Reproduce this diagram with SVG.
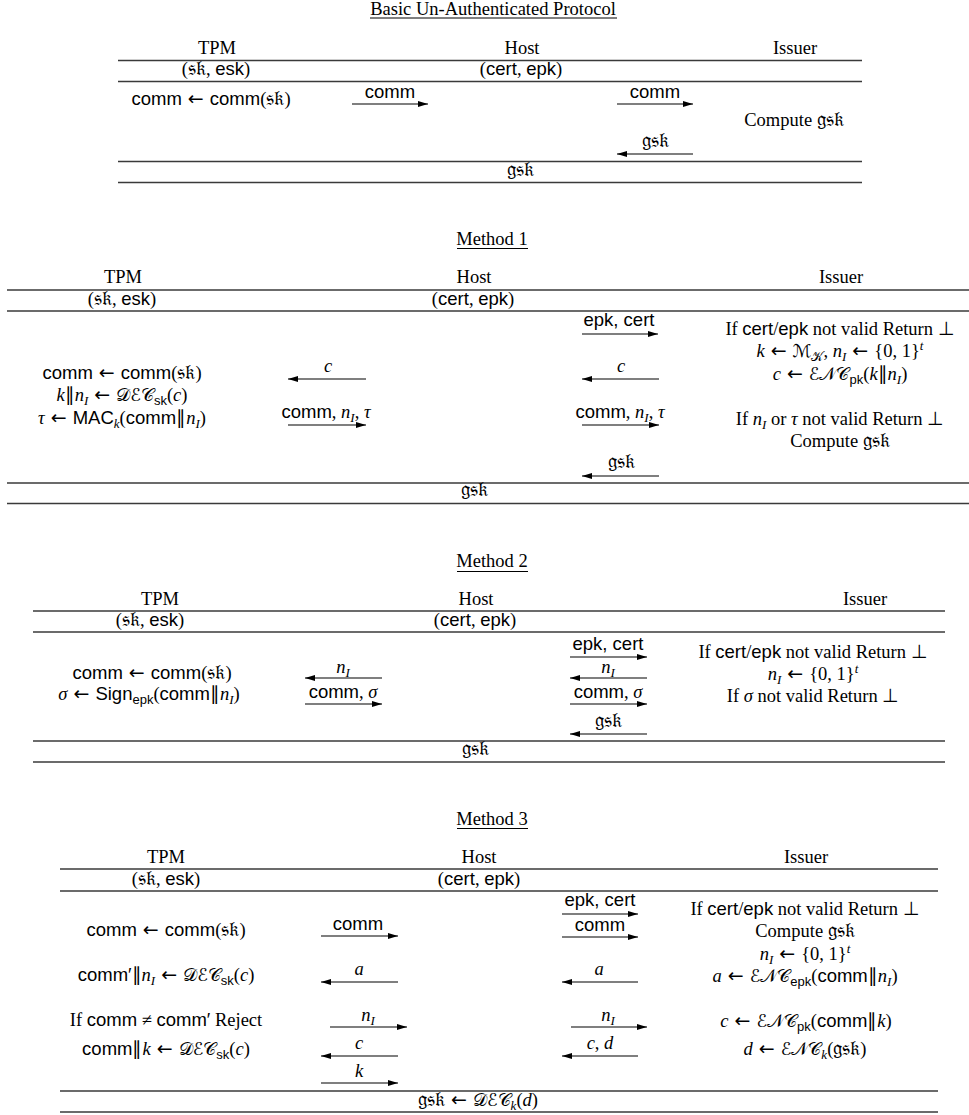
<svg xmlns="http://www.w3.org/2000/svg" width="969" height="1115" viewBox="0 0 969 1115">
<style>
text{font-family:"Liberation Serif","Times New Roman",serif;font-size:18.5px;fill:#000;text-anchor:middle}
.s{font-family:"Liberation Sans",Arial,sans-serif;font-size:18.5px}
.i{font-style:italic}
.op{font-family:"DejaVu Sans",sans-serif;font-size:19px}
.f{font-family:"DejaVu Serif","DejaVu Sans","Noto Sans",serif;font-size:20.5px}
.c{font-family:"DejaVu Serif","DejaVu Sans","Noto Sans",serif;font-style:normal;font-size:17.5px}
.sub{font-size:13px}
.rule{stroke:#3a3a3a;stroke-width:1.3;fill:none}
.ul{stroke:#000;stroke-width:1;fill:none}
.ar{stroke:#000;stroke-width:1.2;marker-end:url(#ah)}
</style>
<defs>
<marker id="ah" viewBox="0 0 10 6" refX="10" refY="3" markerWidth="10" markerHeight="6" markerUnits="userSpaceOnUse" orient="auto"><path d="M0,0 L10,3 L0,6 z" fill="#000"/></marker>
</defs>

<!-- Section 0: Basic Un-Authenticated Protocol -->
<g id="basic">
<g id="basic-title"><text x="493" y="15">Basic Un-Authenticated Protocol</text><line class="ul" x1="370" y1="18" x2="617" y2="18"/></g>
<g id="basic-rules">
<line class="rule" x1="118" y1="60.5" x2="862" y2="60.5"/>
<line class="rule" x1="118" y1="81.5" x2="862" y2="81.5"/>
<line class="rule" x1="118" y1="161.5" x2="862" y2="161.5"/>
<line class="rule" x1="118" y1="182.5" x2="862" y2="182.5"/>
</g>
<g id="basic-tpm"><text x="217" y="54">TPM</text><text x="216" y="75">(<tspan class="f">𝔰𝔨</tspan>, <tspan class="s">esk</tspan>)</text>
<text x="211" y="105"><tspan class="s">comm</tspan><tspan class="op"> ← </tspan><tspan class="s">comm</tspan>(<tspan class="f">𝔰𝔨</tspan>)</text></g>
<g id="basic-host"><text x="522" y="54">Host</text><text x="521" y="75">(<tspan class="s">cert</tspan>, <tspan class="s">epk</tspan>)</text></g>
<g id="basic-issuer"><text x="795" y="54">Issuer</text><text x="794" y="126">Compute <tspan class="f">𝔤𝔰𝔨</tspan></text></g>
<g id="basic-result"><text x="520" y="176" class="f">𝔤𝔰𝔨</text></g>
<g id="basic-labels">
<text x="390" y="98" class="s">comm</text>
<text x="655" y="98" class="s">comm</text>
<text x="655" y="147" class="f">𝔤𝔰𝔨</text>
</g>
</g>

<!-- Method 1 -->
<g id="m1">
<g id="m1-title"><text x="492" y="245">Method 1</text><line class="ul" x1="457" y1="248.5" x2="528" y2="248.5"/></g>
<g id="m1-rules">
<line class="rule" x1="7" y1="290" x2="969" y2="290"/>
<line class="rule" x1="7" y1="311" x2="969" y2="311"/>
<line class="rule" x1="7" y1="483" x2="969" y2="483"/>
<line class="rule" x1="7" y1="503.5" x2="969" y2="503.5"/>
</g>
<g id="m1-tpm"><text x="123" y="283">TPM</text><text x="122" y="305">(<tspan class="f">𝔰𝔨</tspan>, <tspan class="s">esk</tspan>)</text>
<text x="122" y="379"><tspan class="s">comm</tspan><tspan class="op"> ← </tspan><tspan class="s">comm</tspan>(<tspan class="f">𝔰𝔨</tspan>)</text>
<text x="122" y="401"><tspan class="i">k</tspan>∥<tspan class="i">n</tspan><tspan class="i sub" dy="4">I</tspan><tspan class="op" dy="-4"> ← </tspan><tspan class="c">𝒟ℰ𝒞</tspan><tspan class="s sub" dy="4">sk</tspan><tspan dy="-4">(</tspan><tspan class="i">c</tspan>)</text>
<text x="122" y="424"><tspan class="i">τ</tspan><tspan class="op"> ← </tspan><tspan class="s">MAC</tspan><tspan class="i sub" dy="4">k</tspan><tspan dy="-4">(</tspan><tspan class="s">comm</tspan>∥<tspan class="i">n</tspan><tspan class="i sub" dy="4">I</tspan><tspan dy="-4">)</tspan></text></g>
<g id="m1-host"><text x="474" y="283">Host</text><text x="473" y="305">(<tspan class="s">cert</tspan>, <tspan class="s">epk</tspan>)</text></g>
<g id="m1-issuer"><text x="841" y="283">Issuer</text>
<text x="840" y="335">If <tspan class="s">cert</tspan>/<tspan class="s">epk</tspan> not valid Return ⊥</text>
<text x="840" y="357"><tspan class="i">k</tspan><tspan class="op"> ← </tspan><tspan class="c">ℳ</tspan><tspan class="c sub" dy="4">𝒦</tspan><tspan dy="-4">, </tspan><tspan class="i">n</tspan><tspan class="i sub" dy="4">I</tspan><tspan class="op" dy="-4"> ← </tspan>{0, 1}<tspan class="i sub" dy="-7">t</tspan></text>
<text x="840" y="380"><tspan class="i">c</tspan><tspan class="op"> ← </tspan><tspan class="c">ℰ𝒩𝒞</tspan><tspan class="s sub" dy="4">pk</tspan><tspan dy="-4">(</tspan><tspan class="i">k</tspan>∥<tspan class="i">n</tspan><tspan class="i sub" dy="4">I</tspan><tspan dy="-4">)</tspan></text>
<text x="840" y="425">If <tspan class="i">n</tspan><tspan class="i sub" dy="4">I</tspan><tspan dy="-4"> or </tspan><tspan class="i">τ</tspan> not valid Return ⊥</text>
<text x="840" y="447">Compute <tspan class="f">𝔤𝔰𝔨</tspan></text></g>
<g id="m1-result"><text x="474" y="496" class="f">𝔤𝔰𝔨</text></g>
<g id="m1-labels">
<text x="328" y="372" class="i">c</text>
<text x="326" y="418"><tspan class="s">comm</tspan>, <tspan class="i">n</tspan><tspan class="i sub" dy="4">I</tspan><tspan dy="-4">, </tspan><tspan class="i">τ</tspan></text>
<text x="619" y="326" class="s">epk, cert</text>
<text x="621" y="372" class="i">c</text>
<text x="620" y="418"><tspan class="s">comm</tspan>, <tspan class="i">n</tspan><tspan class="i sub" dy="4">I</tspan><tspan dy="-4">, </tspan><tspan class="i">τ</tspan></text>
<text x="621" y="468" class="f">𝔤𝔰𝔨</text>
</g>
</g>

<!-- Method 2 -->
<g id="m2">
<g id="m2-title"><text x="492" y="567">Method 2</text><line class="ul" x1="457" y1="571.5" x2="528" y2="571.5"/></g>
<g id="m2-rules">
<line class="rule" x1="33" y1="611" x2="945" y2="611"/>
<line class="rule" x1="33" y1="632" x2="945" y2="632"/>
<line class="rule" x1="33" y1="741" x2="945" y2="741"/>
<line class="rule" x1="33" y1="762" x2="945" y2="762"/>
</g>
<g id="m2-tpm"><text x="160" y="605">TPM</text><text x="150" y="626">(<tspan class="f">𝔰𝔨</tspan>, <tspan class="s">esk</tspan>)</text>
<text x="152" y="679"><tspan class="s">comm</tspan><tspan class="op"> ← </tspan><tspan class="s">comm</tspan>(<tspan class="f">𝔰𝔨</tspan>)</text>
<text x="149" y="700"><tspan class="i">σ</tspan><tspan class="op"> ← </tspan><tspan class="s">Sign</tspan><tspan class="s sub" dy="4">epk</tspan><tspan dy="-4">(</tspan><tspan class="s">comm</tspan>∥<tspan class="i">n</tspan><tspan class="i sub" dy="4">I</tspan><tspan dy="-4">)</tspan></text></g>
<g id="m2-host"><text x="476" y="605">Host</text><text x="475" y="626">(<tspan class="s">cert</tspan>, <tspan class="s">epk</tspan>)</text></g>
<g id="m2-issuer"><text x="865" y="605">Issuer</text>
<text x="813" y="658">If <tspan class="s">cert</tspan>/<tspan class="s">epk</tspan> not valid Return ⊥</text>
<text x="813" y="680"><tspan class="i">n</tspan><tspan class="i sub" dy="4">I</tspan><tspan class="op" dy="-4"> ← </tspan>{0, 1}<tspan class="i sub" dy="-7">t</tspan></text>
<text x="813" y="702">If <tspan class="i">σ</tspan> not valid Return ⊥</text></g>
<g id="m2-result"><text x="475" y="755" class="f">𝔤𝔰𝔨</text></g>
<g id="m2-labels">
<text x="343" y="673"><tspan class="i">n</tspan><tspan class="i sub" dy="4">I</tspan></text>
<text x="343" y="698"><tspan class="s">comm</tspan>, <tspan class="i">σ</tspan></text>
<text x="608" y="650" class="s">epk, cert</text>
<text x="608" y="673"><tspan class="i">n</tspan><tspan class="i sub" dy="4">I</tspan></text>
<text x="608" y="698"><tspan class="s">comm</tspan>, <tspan class="i">σ</tspan></text>
<text x="608" y="727" class="f">𝔤𝔰𝔨</text>
</g>
</g>

<!-- Method 3 -->
<g id="m3">
<g id="m3-title"><text x="492" y="825">Method 3</text><line class="ul" x1="457" y1="828.5" x2="528" y2="828.5"/></g>
<g id="m3-rules">
<line class="rule" x1="60" y1="869" x2="938" y2="869"/>
<line class="rule" x1="60" y1="891" x2="938" y2="891"/>
<line class="rule" x1="60" y1="1091" x2="938" y2="1091"/>
<line class="rule" x1="60" y1="1112" x2="938" y2="1112"/>
</g>
<g id="m3-tpm"><text x="166" y="863">TPM</text><text x="166" y="885">(<tspan class="f">𝔰𝔨</tspan>, <tspan class="s">esk</tspan>)</text>
<text x="166" y="936"><tspan class="s">comm</tspan><tspan class="op"> ← </tspan><tspan class="s">comm</tspan>(<tspan class="f">𝔰𝔨</tspan>)</text>
<text x="166" y="981"><tspan class="s">comm′</tspan>∥<tspan class="i">n</tspan><tspan class="i sub" dy="4">I</tspan><tspan class="op" dy="-4"> ← </tspan><tspan class="c">𝒟ℰ𝒞</tspan><tspan class="s sub" dy="4">sk</tspan><tspan dy="-4">(</tspan><tspan class="i">c</tspan>)</text>
<text x="166" y="1026">If <tspan class="s">comm</tspan> ≠ <tspan class="s">comm′</tspan> Reject</text>
<text x="166" y="1055"><tspan class="s">comm</tspan>∥<tspan class="i">k</tspan><tspan class="op"> ← </tspan><tspan class="c">𝒟ℰ𝒞</tspan><tspan class="s sub" dy="4">sk</tspan><tspan dy="-4">(</tspan><tspan class="i">c</tspan>)</text></g>
<g id="m3-host"><text x="479" y="863">Host</text><text x="479" y="885">(<tspan class="s">cert</tspan>, <tspan class="s">epk</tspan>)</text></g>
<g id="m3-issuer"><text x="806" y="863">Issuer</text>
<text x="805" y="915">If <tspan class="s">cert</tspan>/<tspan class="s">epk</tspan> not valid Return ⊥</text>
<text x="805" y="937">Compute <tspan class="f">𝔤𝔰𝔨</tspan></text>
<text x="805" y="960"><tspan class="i">n</tspan><tspan class="i sub" dy="4">I</tspan><tspan class="op" dy="-4"> ← </tspan>{0, 1}<tspan class="i sub" dy="-7">t</tspan></text>
<text x="805" y="982"><tspan class="i">a</tspan><tspan class="op"> ← </tspan><tspan class="c">ℰ𝒩𝒞</tspan><tspan class="s sub" dy="4">epk</tspan><tspan dy="-4">(</tspan><tspan class="s">comm</tspan>∥<tspan class="i">n</tspan><tspan class="i sub" dy="4">I</tspan><tspan dy="-4">)</tspan></text>
<text x="806" y="1027"><tspan class="i">c</tspan><tspan class="op"> ← </tspan><tspan class="c">ℰ𝒩𝒞</tspan><tspan class="s sub" dy="4">pk</tspan><tspan dy="-4">(</tspan><tspan class="s">comm</tspan>∥<tspan class="i">k</tspan>)</text>
<text x="805" y="1055"><tspan class="i">d</tspan><tspan class="op"> ← </tspan><tspan class="c">ℰ𝒩𝒞</tspan><tspan class="i sub" dy="4">k</tspan><tspan dy="-4">(</tspan><tspan class="f">𝔤𝔰𝔨</tspan>)</text></g>
<g id="m3-result"><text x="478" y="1106"><tspan class="f">𝔤𝔰𝔨</tspan><tspan class="op"> ← </tspan><tspan class="c">𝒟ℰ𝒞</tspan><tspan class="i sub" dy="4">k</tspan><tspan dy="-4">(</tspan><tspan class="i">d</tspan>)</text></g>
<g id="m3-labels">
<text x="358" y="930" class="s">comm</text>
<text x="359" y="975" class="i">a</text>
<text x="368" y="1021"><tspan class="i">n</tspan><tspan class="i sub" dy="4">I</tspan></text>
<text x="359" y="1049" class="i">c</text>
<text x="359" y="1077" class="i">k</text>
<text x="600" y="906" class="s">epk, cert</text>
<text x="600" y="931" class="s">comm</text>
<text x="599" y="975" class="i">a</text>
<text x="608" y="1021"><tspan class="i">n</tspan><tspan class="i sub" dy="4">I</tspan></text>
<text x="600" y="1049"><tspan class="i">c</tspan>, <tspan class="i">d</tspan></text>
</g>
</g>

<!-- Connectors -->
<g id="connectors">
<line class="ar" x1="352" y1="104" x2="428" y2="104"/>
<line class="ar" x1="617" y1="104" x2="693" y2="104"/>
<line class="ar" x1="693" y1="154" x2="617" y2="154"/>

<line class="ar" x1="582" y1="334" x2="658" y2="334"/>
<line class="ar" x1="366" y1="379" x2="288" y2="379"/>
<line class="ar" x1="659" y1="379" x2="582" y2="379"/>
<line class="ar" x1="288" y1="425" x2="366" y2="425"/>
<line class="ar" x1="582" y1="425" x2="659" y2="425"/>
<line class="ar" x1="659" y1="476" x2="582" y2="476"/>

<line class="ar" x1="570" y1="657" x2="647" y2="657"/>
<line class="ar" x1="382" y1="678" x2="305" y2="678"/>
<line class="ar" x1="647" y1="678" x2="570" y2="678"/>
<line class="ar" x1="305" y1="704" x2="382" y2="704"/>
<line class="ar" x1="570" y1="704" x2="647" y2="704"/>
<line class="ar" x1="647" y1="734" x2="570" y2="734"/>

<line class="ar" x1="562" y1="914" x2="638" y2="914"/>
<line class="ar" x1="321" y1="936" x2="398" y2="936"/>
<line class="ar" x1="562" y1="937" x2="638" y2="937"/>
<line class="ar" x1="398" y1="982" x2="321" y2="982"/>
<line class="ar" x1="638" y1="982" x2="562" y2="982"/>
<line class="ar" x1="330" y1="1027" x2="407" y2="1027"/>
<line class="ar" x1="571" y1="1027" x2="647" y2="1027"/>
<line class="ar" x1="398" y1="1056" x2="321" y2="1056"/>
<line class="ar" x1="638" y1="1056" x2="562" y2="1056"/>
<line class="ar" x1="321" y1="1083" x2="398" y2="1083"/>
</g>
</svg>
